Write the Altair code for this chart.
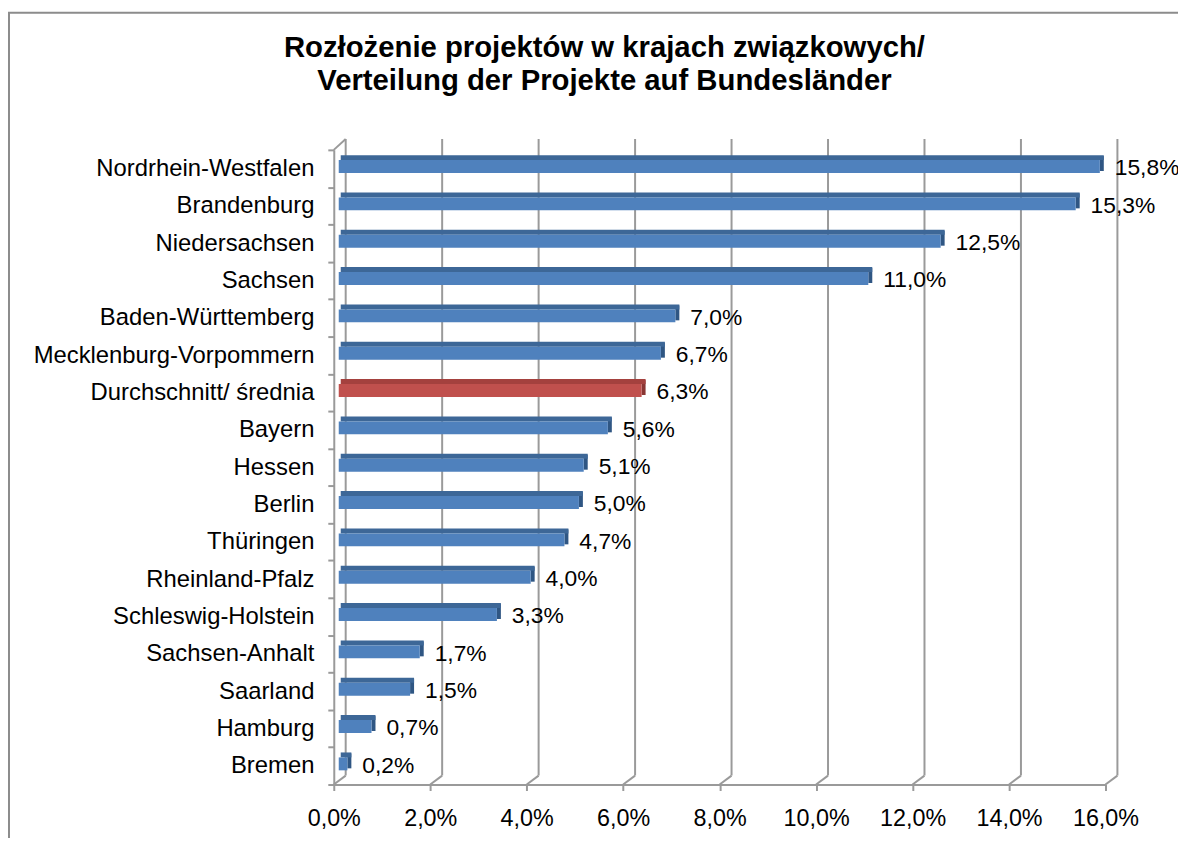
import altair as alt
import pandas as pd

states = ["Nordrhein-Westfalen", "Brandenburg", "Niedersachsen", "Sachsen",
          "Baden-Württemberg", "Mecklenburg-Vorpommern", "Durchschnitt/ średnia",
          "Bayern", "Hessen", "Berlin", "Thüringen", "Rheinland-Pfalz",
          "Schleswig-Holstein", "Sachsen-Anhalt", "Saarland", "Hamburg", "Bremen"]
shares = [15.8, 15.3, 12.5, 11.0, 7.0, 6.7, 6.3, 5.6, 5.1, 5.0, 4.7, 4.0, 3.3,
          1.7, 1.5, 0.7, 0.2]
kinds = ["state"] * 6 + ["average"] + ["state"] * 10
ticks = [0, 2, 4, 6, 8, 10, 12, 14, 16]

title_lines = ["Rozłożenie projektów w krajach związkowych/",
               "Verteilung der Projekte auf Bundesländer"]

FONT = "Liberation Sans"
GRID = "#9a9a9a"

df = pd.DataFrame({"state": states, "share": shares, "kind": kinds})
grid_df = pd.DataFrame({"t": ticks})
one = pd.DataFrame({"k": [0]})

xscale = alt.Scale(domain=[0, 16], nice=False, zero=True)
yscale = alt.Scale(domain=states, paddingInner=0, paddingOuter=0)

xaxis = alt.Axis(title=None, values=ticks, grid=False,
                 labelExpr="replace(format(datum.value, '.1f'), '.', ',') + '%'",
                 labelFont=FONT, labelFontSize=23.5, labelColor="black",
                 labelOverlap=False, labelFlush=False,
                 domainColor=GRID, domainWidth=2, tickColor=GRID,
                 tickWidth=2, tickSize=6, labelPadding=16)
yaxis = alt.Axis(title=None, labelFont=FONT, labelFontSize=24, labelLimit=400,
                 labelColor="black", domainColor=GRID, domainWidth=2,
                 tickColor=GRID, tickWidth=2, tickSize=6, labelOverlap=False,
                 tickBand="extent", labelPadding=14)

X = alt.X("share:Q", scale=xscale, axis=xaxis)
Y = alt.Y("state:N", sort=states, scale=yscale, axis=yaxis)
XT = alt.X("t:Q", scale=xscale, axis=xaxis)

is_avg = "datum.kind == 'average'"

# outer frame
frame = alt.Chart(one).mark_rect(fillOpacity=0, stroke="#8c8c8c", strokeWidth=2).encode(
    x=alt.value(-327), x2=alt.value(900), y=alt.value(-138), y2=alt.value(720)
)

# back-wall gridlines
back = alt.Chart(grid_df).mark_rule(color=GRID, strokeWidth=2, xOffset=12).encode(
    x=XT, y=alt.value(-11), y2=alt.value(630)
)
diag = alt.Chart(grid_df).mark_rule(color=GRID, strokeWidth=2, x2Offset=12).encode(
    x=XT, x2="t:Q", y=alt.value(639), y2=alt.value(630)
)
topdiag = alt.Chart(one).mark_rule(color=GRID, strokeWidth=2).encode(
    x=alt.value(0), x2=alt.value(12), y=alt.value(0), y2=alt.value(-11)
)

base = alt.Chart(df)

side = base.mark_bar(size=15, yOffset=-5, xOffset=4, x2Offset=8).encode(
    y=Y, x=X, x2=alt.X2("share:Q"),
    fill=alt.condition(is_avg, alt.value("#8a3634"), alt.value("#2f5683")),
)
top = base.mark_bar(size=5, yOffset=-11, xOffset=8, x2Offset=7).encode(
    y=Y, x=X, x2=alt.datum(0),
    fill=alt.condition(is_avg, alt.value("#a4413e"), alt.value("#3d6797")),
)
face = base.mark_bar(size=13, yOffset=-2, xOffset=4, x2Offset=5).encode(
    y=Y, x=X, x2=alt.datum(0),
    fill=alt.condition(is_avg, alt.value("#c0504d"), alt.value("#4f81bd")),
)
labels = base.mark_text(align="left", baseline="middle", dx=19, font=FONT,
                        fontSize=23, color="black").encode(
    y=Y, x=X, text="label:N",
).transform_calculate(label="replace(format(datum.share, '.1f'), '.', ',') + '%'")

chart = alt.layer(frame, back, diag, topdiag, side, top, face, labels).properties(
    width=777, height=639,
    autosize=alt.AutoSizeParams(type="none"),
    padding={"left": 328, "top": 140, "right": 73, "bottom": 51},
    title=alt.TitleParams(text=title_lines, font=FONT, fontSize=29.5, fontWeight="bold",
                          color="black", anchor="middle", frame="group", dx=-116,
                          dy=85, offset=0, lineHeight=33),
    background="white",
).configure_view(stroke=None)

chart.save("out.html", embed_options={"renderer": "svg", "actions": False})
